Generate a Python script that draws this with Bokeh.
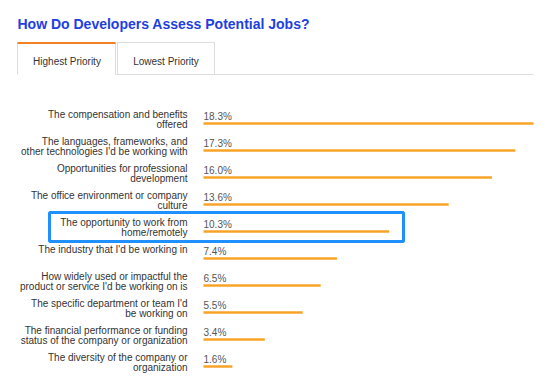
from bokeh.plotting import figure
from bokeh.models import ColumnDataSource, Range1d, Label, BoxAnnotation
from bokeh.core.properties import value
from bokeh.embed import file_html
from bokeh.resources import INLINE

title_text = "How Do Developers Assess Potential Jobs?"
tab_labels = ["Highest Priority", "Lowest Priority"]
categories = [
    "The compensation and benefits\noffered",
    "The languages, frameworks, and\nother technologies I'd be working with",
    "Opportunities for professional\ndevelopment",
    "The office environment or company\nculture",
    "The opportunity to work from\nhome/remotely",
    "The industry that I'd be working in",
    "How widely used or impactful the\nproduct or service I'd be working on is",
    "The specific department or team I'd\nbe working on",
    "The financial performance or funding\nstatus of the company or organization",
    "The diversity of the company or\norganization",
]
values = [18.3, 17.3, 16.0, 13.6, 10.3, 7.4, 6.5, 5.5, 3.4, 1.6]
highlight_index = 4

FONT = "Liberation Sans"
W, H = 540, 375
PX_PER = 18.03   # pixels per percent
X0 = 203         # pixel of 0%
ROW = 27         # pixels per row
Y0 = 123         # pixel of first row


def dx(px):
    return (px - X0) / PX_PER


def dy(py):
    return (py - Y0) / ROW


line1 = [c.split("\n")[0] for c in categories]
line2 = [c.split("\n")[1] if "\n" in c else "" for c in categories]

source = ColumnDataSource(dict(
    idx=list(range(len(values))),
    value=values,
    cat1=line1,
    cat2=line2,
    pct=[f"{v:.1f}%" for v in values],
))

p = figure(width=W, height=H, output_backend="svg", toolbar_location=None,
           x_range=Range1d(dx(0), dx(W)), y_range=Range1d(dy(H), dy(0)),
           min_border=0, outline_line_color=None, background_fill_color="white",
           border_fill_color="white")
p.xaxis.visible = False
p.yaxis.visible = False
p.grid.visible = False

# title
p.add_layout(Label(x=dx(17), y=dy(23.3), text=title_text, text_font=FONT,
                   text_font_size="14px", text_font_style="bold",
                   text_color="#1e40e0", text_baseline="alphabetic", text_align="left"))

# tabs
border = "#dddddd"
p.line([dx(17), dx(17), dx(115), dx(115)], [dy(74), dy(42), dy(42), dy(74)],
       line_color=border, line_width=1)
p.line([dx(117), dx(117), dx(214), dx(214), dx(117)],
       [dy(74), dy(42), dy(42), dy(74), dy(74)], line_color=border, line_width=1)
p.line([dx(115), dx(533)], [dy(74), dy(74)], line_color=border, line_width=1)
p.line([dx(17), dx(115)], [dy(42.5), dy(42.5)], line_color="#f48024", line_width=2)
p.add_layout(Label(x=dx(66.5), y=dy(60.7), text=tab_labels[0], text_font=FONT,
                   text_font_size="10px", text_color="#333333",
                   text_align="center", text_baseline="alphabetic"))
p.add_layout(Label(x=dx(165.5), y=dy(60.7), text=tab_labels[1], text_font=FONT,
                   text_font_size="10px", text_color="#333333",
                   text_align="center", text_baseline="alphabetic"))

# bars
p.hbar(y="idx", left=0, right="value", height=2.6 / ROW, source=source,
       fill_color="#f8a328", line_color=None)

# percent labels
p.text(x=0, y="idx", text="pct", source=source, text_font=value(FONT),
       text_font_size="10px", text_color="#555555", text_align="left",
       text_baseline="alphabetic", y_offset=-7)

# category labels (two lines)
p.text(x=0, y="idx", text="cat1", source=source, text_font=value(FONT),
       text_font_size="10px", text_color="#333333", text_align="right",
       text_baseline="alphabetic", x_offset=-16, y_offset=-9)
p.text(x=0, y="idx", text="cat2", source=source, text_font=value(FONT),
       text_font_size="10px", text_color="#333333", text_align="right",
       text_baseline="alphabetic", x_offset=-16, y_offset=1)

# highlight box
p.add_layout(BoxAnnotation(left=dx(49), right=dx(403),
                           top=dy(212), bottom=dy(241),
                           fill_alpha=0, line_color="#1e90ff", line_alpha=1,
                           line_width=3))

open("out.html", "w").write(file_html(p, INLINE))
